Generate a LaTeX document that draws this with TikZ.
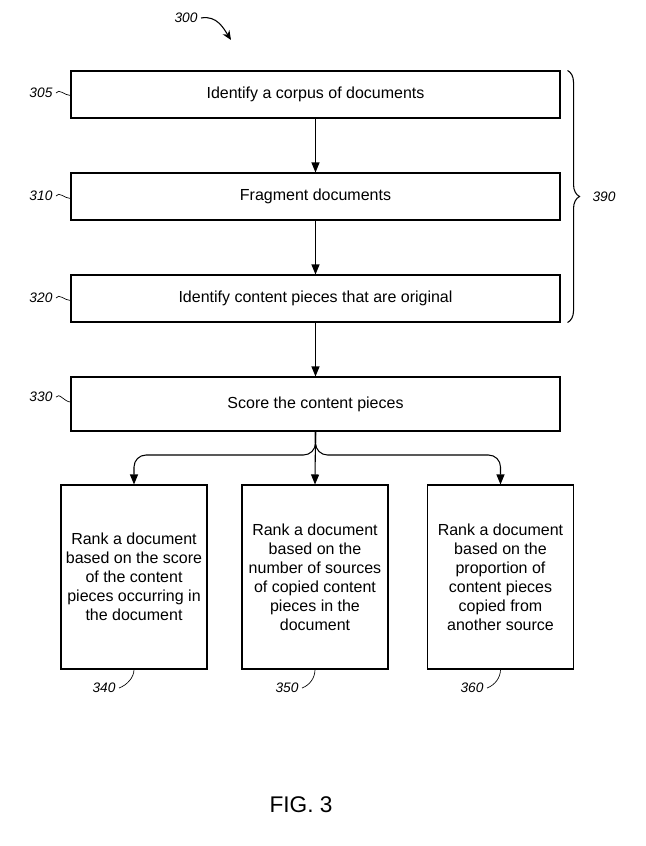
\documentclass[tikz,border=0pt]{standalone}
\usepackage{fontspec}
\setmainfont{Liberation Sans}
\usetikzlibrary{arrows.meta,calc,decorations.pathreplacing}
\begin{document}
\begin{tikzpicture}[x=0.75pt,y=-0.75pt,
  box/.style={draw,line width=0.8pt,inner sep=0pt,font=\fontsize{12}{14.25}\selectfont,align=center},
  mainbox/.style={box,minimum width=366.75pt,minimum height=35.25pt},
  rankbox/.style={box,minimum width=109.5pt,minimum height=138pt},
  lbl/.style={font=\fontsize{10.3}{12}\selectfont\itshape,inner sep=2.5pt},
  arr/.style={line width=0.8pt,-{Triangle[length=7.5pt,width=6pt]}},
  squig/.style={line width=0.5pt}]
\useasboundingbox (0,0) rectangle (646,846);
\node[mainbox] (n305) at (315.5,94.5) {Identify a corpus of documents};
\node[mainbox] (n310) at (315.5,196.5) {Fragment documents};
\node[mainbox] (n320) at (315.5,298.5) {Identify content pieces that are original};
\node[mainbox,minimum height=40.5pt] (n330) at (315.5,404) {Score the content pieces};
\node[rankbox] (n340) at (134,577) {Rank a document\\based on the score\\of the content\\pieces occurring in\\the document};
\node[rankbox] (n350) at (315,577) {Rank a document\\based on the\\number of sources\\of copied content\\pieces in the\\document};
\node[rankbox] (n360) at (500.5,577) {Rank a document\\based on the\\proportion of\\content pieces\\copied from\\another source};
\draw[arr] (n305) -- (n310);
\draw[arr] (n310) -- (n320);
\draw[arr] (n320) -- (n330);
\draw[arr] (n330.south) -- (n350.north);
\draw[arr,rounded corners=9pt] (n330.south) |- (n340.north |- 0,455) -- (n340.north);
\draw[arr,rounded corners=9pt] (n330.south) |- (n360.north |- 0,455) -- (n360.north);
% brace
\draw[line width=0.8pt,decorate,decoration={brace,amplitude=9pt}]
  ($(n305.north east)+(7,0)$) -- ($(n320.south east)+(7,0)$);
\node[lbl] (l390) at (604,197) {390};
% labels
\node[lbl] (l300) at (186,18) {300};
\coordinate (c300) at (231,40);
\draw[line width=0.8pt,-{Stealth[length=7pt,width=6pt]}] (l300.east) .. controls +(16,-3) and +(-7,-11) .. (c300);
\node[lbl,anchor=east] (l305) at (56,93) {305};
\node[lbl,anchor=east] (l310) at (56,196) {310};
\node[lbl,anchor=east] (l320) at (56,298) {320};
\node[lbl,anchor=east] (l330) at (56,397) {330};
\draw[squig] (l305.east) .. controls +(3,-5) and +(-6,0) .. ($(n305.west)+(0,1)$);
\draw[squig] (l310.east) .. controls +(3,-5) and +(-6,0) .. ($(n310.west)+(0,2)$);
\draw[squig] (l320.east) .. controls +(3,-5) and +(-6,0) .. ($(n320.west)+(0,2)$);
\draw[squig] (l330.east) .. controls +(3,-5) and +(-6,0) .. ($(n330.west)+(0,-2)$);
\node[lbl] (l340) at (104,688) {340};
\node[lbl] (l350) at (287,688) {350};
\node[lbl] (l360) at (472,688) {360};
\draw[squig] (l340.east) .. controls +(8,-3) and +(0,8) .. (n340.south);
\draw[squig] (l350.east) .. controls +(8,-3) and +(0,8) .. (n350.south);
\draw[squig] (l360.east) .. controls +(8,-3) and +(0,8) .. (n360.south);
\node[font=\fontsize{17}{20}\selectfont] (fig) at (301,805) {FIG. 3};
\end{tikzpicture}
\end{document}
